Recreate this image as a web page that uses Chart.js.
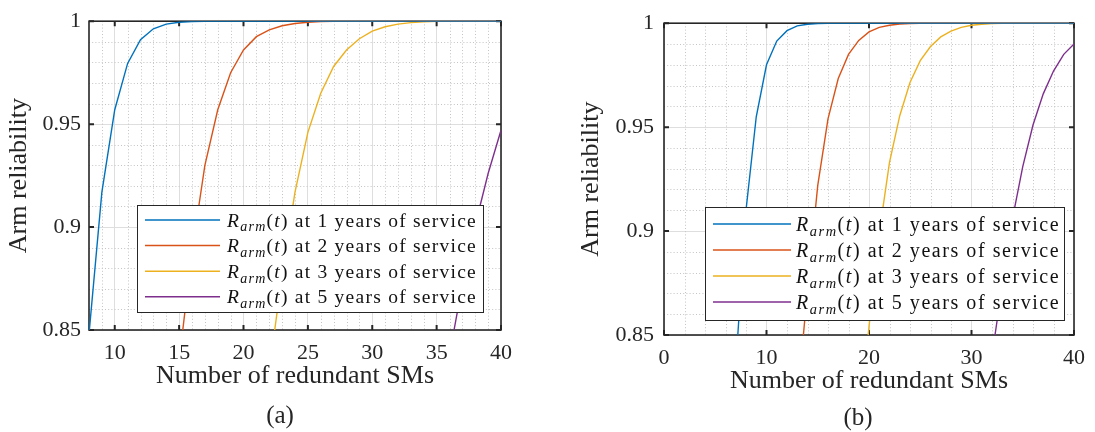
<!DOCTYPE html>
<html>
<head>
<meta charset="utf-8">
<script src="https://cdn.jsdelivr.net/npm/chart.js@4"></script>
<style>
  html, body { margin: 0; padding: 0; background: #fff; }
  #wrap { position: relative; width: 1095px; height: 432px; }
  .panel { position: absolute; top: 0; height: 432px; }
</style>
</head>
<body>
<div id="wrap">
  <div class="panel" style="left:0;width:548px"><canvas id="chartA"></canvas></div>
  <div class="panel" style="left:548px;width:547px"><canvas id="chartB"></canvas></div>
</div>
<script>
const yearsOfService = [1, 2, 3, 5];
const seriesColors = ['#0072BD', '#D95319', '#EDB120', '#7E2F8E'];

// panel (a): redundant SMs 8..40
const smsA = [8, 9, 10, 11, 12, 13, 14, 15, 16, 17, 18, 19, 20, 21, 22, 23, 24,
  25, 26, 27, 28, 29, 30, 31, 32, 33, 34, 35, 36, 37, 38, 39, 40];
const relA1 = [0.848, 0.917, 0.957, 0.9795, 0.991, 0.9963, 0.9986, 0.9995, 0.9998, 0.9999,
  1, 1, 1, 1, 1, 1, 1, 1, 1, 1, 1, 1, 1, 1, 1, 1, 1, 1, 1, 1, 1, 1, 1];
const relA2 = [null, null, null, null, null, null, null,
  0.835, 0.888, 0.930, 0.957, 0.975, 0.986, 0.9925, 0.9958, 0.9978, 0.9989, 0.9995, 0.9998, 0.9999,
  1, 1, 1, 1, 1, 1, 1, 1, 1, 1, 1, 1, 1];
const relA3 = [null, null, null, null, null, null, null, null, null, null, null, null, null, null,
  0.830, 0.877, 0.917, 0.946, 0.965, 0.978, 0.986, 0.9915, 0.9952, 0.9973, 0.9986, 0.9993, 0.9997, 0.9999,
  1, 1, 1, 1, 1];
const relA5 = [null, null, null, null, null, null, null, null, null, null, null, null, null, null,
  null, null, null, null, null, null, null, null, null, null, null, null, null, null,
  0.838, 0.872, 0.901, 0.926, 0.947];

// panel (b): redundant SMs 0..40
const smsB = [0, 1, 2, 3, 4, 5, 6, 7, 8, 9, 10, 11, 12, 13, 14, 15, 16, 17, 18, 19, 20,
  21, 22, 23, 24, 25, 26, 27, 28, 29, 30, 31, 32, 33, 34, 35, 36, 37, 38, 39, 40];
const relB1 = [null, null, null, null, null, null, null,
  0.835, 0.910, 0.955, 0.980, 0.9914, 0.9964, 0.9987, 0.9995, 0.9998, 0.9999,
  1, 1, 1, 1, 1, 1, 1, 1, 1, 1, 1, 1, 1, 1, 1, 1, 1, 1, 1, 1, 1, 1, 1, 1];
const relB2 = [null, null, null, null, null, null, null, null, null, null, null, null, null,
  0.817, 0.872, 0.922, 0.954, 0.9734, 0.985, 0.9917, 0.9958, 0.998, 0.999, 0.9996, 0.9998, 0.9999,
  1, 1, 1, 1, 1, 1, 1, 1, 1, 1, 1, 1, 1, 1, 1];
const relB3 = [null, null, null, null, null, null, null, null, null, null, null, null, null,
  null, null, null, null, null, null,
  0.805, 0.854, 0.899, 0.933, 0.9555, 0.9715, 0.982, 0.9888, 0.9934, 0.9962, 0.998, 0.999, 0.9995, 0.9998, 0.9999,
  1, 1, 1, 1, 1, 1, 1];
const relB5 = [null, null, null, null, null, null, null, null, null, null, null, null, null,
  null, null, null, null, null, null, null, null, null, null, null, null, null, null, null,
  null, null, null, null,
  0.840, 0.874, 0.906, 0.931, 0.951, 0.966, 0.977, 0.985, 0.990];

const xTicksA = [10, 15, 20, 25, 30, 35, 40];
const xTicksB = [0, 10, 20, 30, 40];
const yTicks = [0.85, 0.9, 0.95, 1];
const yTickLabels = ['0.85', '0.9', '0.95', '1'];

const SERIF = '"Liberation Serif", "Times New Roman", serif';
const INK = '#262626';

// minor dotted grid, box and inward ticks like matlab axes
const matlabAxes = {
  id: 'matlabAxes',
  beforeDatasetsDraw(chart, args, opts) {
    const {ctx, chartArea: a, scales: {x, y}} = chart;
    ctx.save();
    ctx.strokeStyle = '#c4c4c4';
    ctx.lineWidth = 1;
    ctx.setLineDash([1, 2.2]);
    const majorX = x.ticks.map(t => t.value);
    for (let v = x.min; v <= x.max + 1e-9; v += opts.minorX) {
      if (majorX.some(m => Math.abs(m - v) < 1e-6) || v === x.min || v >= x.max) continue;
      const px = Math.round(x.getPixelForValue(v)) + 0.5;
      ctx.beginPath(); ctx.moveTo(px, a.top); ctx.lineTo(px, a.bottom); ctx.stroke();
    }
    for (let k = 1; k < 15; k++) {
      const v = 0.85 + k * opts.minorY;
      if (k % 5 === 0) continue;
      const py = Math.round(y.getPixelForValue(v)) + 0.5;
      ctx.beginPath(); ctx.moveTo(a.left, py); ctx.lineTo(a.right, py); ctx.stroke();
    }
    ctx.setLineDash([]);
    ctx.strokeStyle = INK;
    ctx.lineWidth = 2;
    x.ticks.forEach(t => {
      const px = x.getPixelForValue(t.value);
      ctx.beginPath();
      ctx.moveTo(px, a.bottom); ctx.lineTo(px, a.bottom - 5);
      ctx.moveTo(px, a.top); ctx.lineTo(px, a.top + 5);
      ctx.stroke();
    });
    y.ticks.forEach(t => {
      const py = y.getPixelForValue(t.value);
      ctx.beginPath();
      ctx.moveTo(a.left, py); ctx.lineTo(a.left + 5, py);
      ctx.moveTo(a.right, py); ctx.lineTo(a.right - 5, py);
      ctx.stroke();
    });
    ctx.lineWidth = 1.6;
    ctx.strokeRect(a.left, a.top, a.right - a.left, a.bottom - a.top);
    ctx.restore();
  }
};

// shift the "(a)"/"(b)" caption sideways, it is not centred on the axes
const captionShift = {
  id: 'captionShift',
  afterLayout(chart, args, o) {
    const t = chart.titleBlock;
    if (t) { t.left += o.dx; t.right += o.dx; }
  }
};

function drawEntryText(ctx, x, baseline, years, size) {
  let cx = x;
  const put = (s, style, sz, dy) => {
    ctx.font = style + ' ' + sz + 'px ' + SERIF;
    ctx.fillText(s, cx, baseline + dy);
    cx += ctx.measureText(s).width;
  };
  put('R', 'italic', size, 0);
  put('arm', 'italic', size * 0.72, size * 0.24);
  put('(', 'normal', size, 0);
  put('t', 'italic', size, 0);
  put(')', 'normal', size, 0);
  put(' at ' + years + ' years of service', 'normal', size, 0);
}

const mathLegend = {
  id: 'mathLegend',
  afterDatasetsDraw(chart, args, o) {
    const {ctx, chartArea: a} = chart;
    const left = a.right - o.gapRight - o.width;
    const top = a.bottom - o.gapBottom - o.height;
    ctx.save();
    ctx.fillStyle = '#fff';
    ctx.fillRect(left, top, o.width, o.height);
    ctx.strokeStyle = '#262626';
    ctx.lineWidth = 1;
    ctx.strokeRect(left + 0.5, top + 0.5, o.width - 1, o.height - 1);
    ctx.textBaseline = 'alphabetic';
    ctx.letterSpacing = o.spacing + 'px';
    chart.data.datasets.forEach((ds, i) => {
      const cy = top + o.firstRow + i * o.rowH;
      ctx.strokeStyle = ds.borderColor;
      ctx.lineWidth = 1.5;
      ctx.beginPath();
      ctx.moveTo(left + o.sampleX0, cy); ctx.lineTo(left + o.sampleX1, cy);
      ctx.stroke();
      ctx.fillStyle = '#111';
      drawEntryText(ctx, left + o.textX, cy + o.fontSize * 0.34, yearsOfService[i], o.fontSize);
    });
    ctx.restore();
  }
};

function makeChart(id, sms, rels, xTicks, xMin, xMax, caption, g) {
  const datasets = rels.map((rel, i) => ({
    label: 'R_arm(t) at ' + yearsOfService[i] + ' years of service',
    data: sms.map((s, k) => ({x: s, y: rel[k]})),
    borderColor: seriesColors[i],
    backgroundColor: seriesColors[i],
    borderWidth: 1.4,
    pointRadius: 0,
    tension: 0,
    spanGaps: false,
    clip: 0
  }));
  return new Chart(document.getElementById(id), {
    type: 'line',
    data: {datasets},
    plugins: [matlabAxes, mathLegend, captionShift],
    options: {
      responsive: true,
      maintainAspectRatio: false,
      devicePixelRatio: 1,
      animation: false,
      layout: {padding: {top: 15, right: g.padRight, left: 0, bottom: 0}},
      scales: {
        x: {
          type: 'linear', min: xMin, max: xMax,
          afterBuildTicks: s => { s.ticks = xTicks.map(v => ({value: v})); },
          afterFit: s => { s.height = g.xAxisH; },
          grid: {color: '#dedede', lineWidth: 1, drawTicks: false},
          border: {display: false},
          ticks: {font: {family: SERIF, size: 22}, color: INK, padding: g.xTickPad, maxRotation: 0,
            callback: v => String(v)},
          title: {display: true, text: 'Number of redundant SMs', color: INK,
            font: {family: SERIF, size: 26}, padding: {top: 0, bottom: 0}}
        },
        y: {
          type: 'linear', min: 0.85, max: 1,
          afterBuildTicks: s => { s.ticks = yTicks.map(v => ({value: v})); },
          afterFit: s => { s.width = g.yAxisW; },
          grid: {color: '#dedede', lineWidth: 1, drawTicks: false},
          border: {display: false},
          ticks: {font: {family: SERIF, size: 22}, color: INK, padding: g.yTickPad,
            callback: v => yTickLabels[yTicks.findIndex(t => Math.abs(t - v) < 1e-9)]},
          title: {display: true, text: 'Arm reliability', color: INK,
            font: {family: SERIF, size: 26}, padding: {top: g.yTitlePad, bottom: 0}}
        }
      },
      plugins: {
        legend: {display: false},
        tooltip: {enabled: false},
        title: {display: true, position: 'bottom', text: caption, color: INK,
          font: {family: SERIF, size: 25, weight: 'normal', lineHeight: 1},
          padding: {top: g.capTop, bottom: g.capBottom}},
        captionShift: {dx: g.capDx},
        matlabAxes: {minorX: g.minorX, minorY: 0.01},
        mathLegend: g.legend
      }
    }
  });
}

makeChart('chartA', smsA, [relA1, relA2, relA3, relA5], xTicksA, 8, 40, '(a)', {
  padRight: 47, yAxisW: 89, xAxisH: 62, xTickPad: 10, yTickPad: 8, yTitlePad: 4,
  capTop: 11.5, capBottom: 3.5, capDx: 29.5, minorX: 1,
  legend: {width: 347, height: 108, gapRight: 17, gapBottom: 17, firstRow: 15, rowH: 25.6,
    sampleX0: 8, sampleX1: 83, textX: 90, fontSize: 19.5, spacing: 1.25}
});

makeChart('chartB', smsB, [relB1, relB2, relB3, relB5], xTicksB, 0, 40, '(b)', {
  padRight: 14, yAxisW: 116, xAxisH: 62, xTickPad: 10, yTickPad: 10, yTitlePad: 28,
  capTop: 8.5, capBottom: 1.5, capDx: 43.5, minorX: 2,
  legend: {width: 360, height: 114, gapRight: 9, gapBottom: 14, firstRow: 17, rowH: 26,
    sampleX0: 8, sampleX1: 86, textX: 91, fontSize: 20, spacing: 1.55}
});
</script>
</body>
</html>
